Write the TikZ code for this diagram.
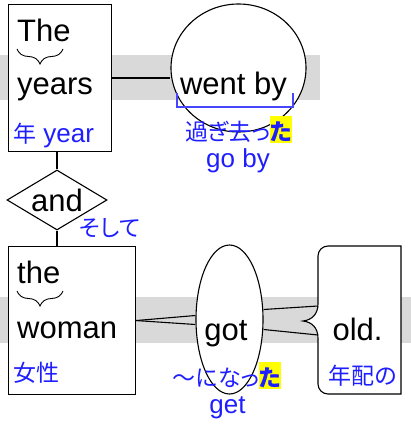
\documentclass[tikz,border=0pt]{standalone}
\usepackage{fontspec}
\setmainfont{Liberation Sans}
\newfontfamily\jp[RawFeature=+palt]{Noto Sans CJK JP}
\usetikzlibrary{shapes.geometric,calc,decorations.pathreplacing}
\definecolor{jblue}{RGB}{30,30,255}
\definecolor{lblue}{RGB}{70,70,255}
\definecolor{band}{RGB}{217,217,217}
\definecolor{hl}{RGB}{255,255,0}
\newcommand{\jtext}[1]{{\jp\fontsize{23}{23}\selectfont #1}}
\newcommand{\hlta}{{\setlength{\fboxsep}{0pt}\colorbox{hl}{\bfseries\rule[-3pt]{0pt}{27pt}た}}}
\begin{document}
\begin{tikzpicture}[x=1pt,y=-1pt,
  box/.style={draw, fill=white, line width=1.1pt, inner sep=0pt, anchor=north west},
  word/.style={font=\fontsize{31}{31}\selectfont, inner sep=0pt},
  gl/.style={font=\fontsize{26}{26}\selectfont, text=jblue, inner sep=0pt},
  jgl/.style={font=\jp\fontsize{23}{23}\selectfont, text=jblue, inner sep=0pt},
  link/.style={line width=1.1pt},
  ubrace/.style={decorate, decoration={brace, mirror, amplitude=15pt}, line width=0.9pt}
]
\useasboundingbox (0,0) rectangle (411,425);
% bands
\fill[band] (0,55) rectangle (320,100);
\fill[band] (0,297) rectangle (411,343);

% shapes
\node[box, minimum width=103, minimum height=147] (b1) at (8,4) {};
\node[ellipse, draw, fill=white, line width=1.1pt, inner sep=0pt, minimum width=135, minimum height=128] (went) at (238.5,68) {};
\node[diamond, draw, fill=white, line width=1.1pt, inner sep=0pt, minimum width=100, minimum height=60] (dia) at (57,200) {};
\node[box, minimum width=127, minimum height=148] (b2) at (8,246) {};
\node[ellipse, draw, fill=white, line width=1.1pt, inner sep=0pt, minimum width=67, minimum height=149] (got) at (229.5,319.5) {};
\draw[fill=white, line width=1.1pt] (401,246) -- (328,246) .. controls (322.5,246) and (318,250.5) .. (318,256)
  -- (318,304) .. controls (318,314) and (312,320) .. (303,321)
  .. controls (312,322) and (318,328) .. (318,338)
  -- (318,384) .. controls (318,389.5) and (322.5,394) .. (328,394) -- (401,394) -- cycle;
\coordinate (oldA) at (318,306);
\coordinate (oldB) at (318,335);

% connectors
\draw[link] (b1.east) -- (b1.east -| went.west);
\draw[link] (dia.north |- b1.south) -- (dia.north);
\draw[link] (dia.south) -- (dia.south |- b2.north);
\draw[link] (b2.east) -- ($(got.west)+(0,-4)$);
\draw[link] (b2.east) -- ($(got.west)+(0,5)$);
\draw[link] ($(got.east)+(0,-10)$) -- (oldA);
\draw[link] ($(got.east)+(0,10)$) -- (oldB);

% words
\node[word, anchor=base west] (the1) at (17,42) {The};
\node[word, anchor=base west] (years) at (17,95) {years};
\node[word, anchor=base] (wentby) at (233.5,95) {went by};
\node[word, anchor=base] (andw) at (57,211) {and};
\node[word, anchor=base west] (the2) at (17,283) {the};
\node[word, anchor=base west] (woman) at (17,338) {woman};
\node[word, anchor=base] (gotw) at (226,340) {got};
\node[word, anchor=base] (oldw) at (357.5,340) {old.};

% braces
\draw[ubrace] (17,49) -- (63,49);
\draw[ubrace] (17,291) -- (63,291);
\draw[lblue, line width=1.2pt] (177,93) -- (177,107) -- (293,107) -- (293,93);

% glosses
\node[gl, anchor=base west] (g1) at (13,142) {\jtext{年} year};
\node[jgl, anchor=base] (g2) at (238.5,140) {過ぎ去っ\hlta};
\node[gl, anchor=base] (g3) at (238,167) {go by};
\node[jgl, anchor=base] (g4) at (110,236) {そして};
\node[jgl, anchor=base west] (g5) at (13,381) {女性};
\node[jgl, anchor=base] (g6) at (227,386) {〜になっ\hlta};
\node[gl, anchor=base] (g7) at (227.5,413) {get};
\node[jgl, anchor=base] (g8) at (363,384) {年配の};
\end{tikzpicture}
\end{document}
